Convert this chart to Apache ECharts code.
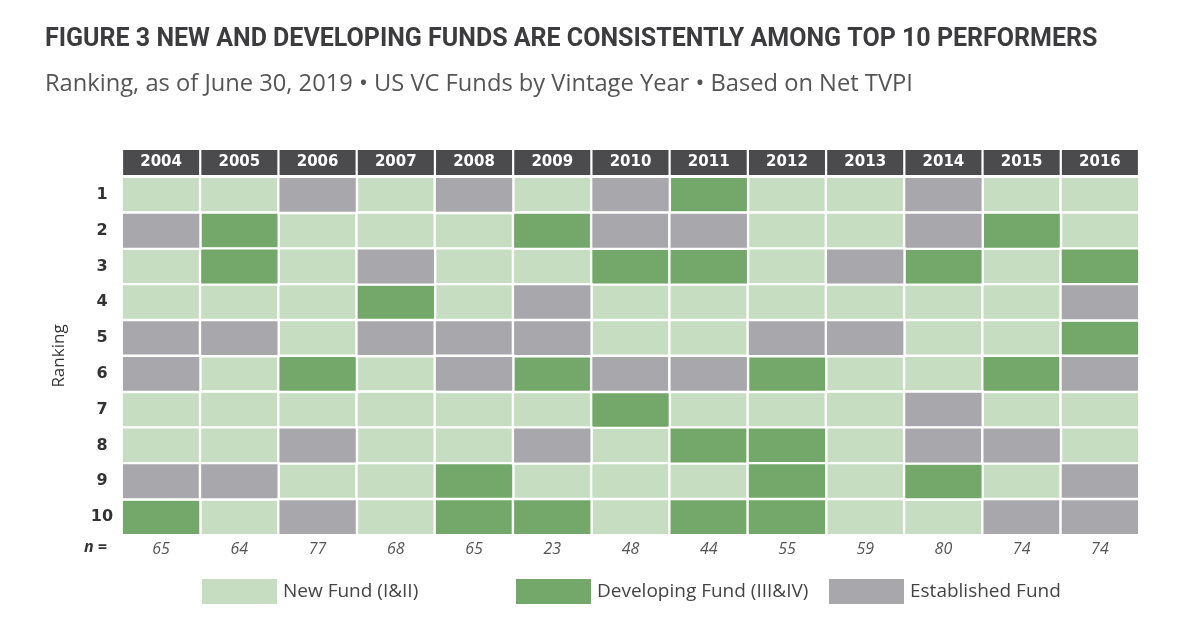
<!DOCTYPE html>
<html>
<head>
<meta charset="utf-8">
<script src="https://cdn.jsdelivr.net/npm/echarts@6/dist/echarts.min.js"></script>
<style>html,body{margin:0;padding:0;background:#fff}#c{width:1200px;height:635px}</style>
</head>
<body>
<div id="c"></div>
<script>
const years = ['2004','2005','2006','2007','2008','2009','2010','2011','2012','2013','2014','2015','2016'];
const ranks = ['1','2','3','4','5','6','7','8','9','10'];
const nValues = ['65','64','77','68','65','23','48','44','55','59','80','74','74'];
// N = New Fund, D = Developing Fund, E = Established Fund; one row per ranking, one entry per vintage year
const rank1  = ['N','N','E','N','E','N','E','D','N','N','E','N','N'];
const rank2  = ['E','D','N','N','N','D','E','E','N','N','E','D','N'];
const rank3  = ['N','D','N','E','N','N','D','D','N','E','D','N','D'];
const rank4  = ['N','N','N','D','N','E','N','N','N','N','N','N','E'];
const rank5  = ['E','E','N','E','E','E','N','N','E','E','N','N','D'];
const rank6  = ['E','N','D','N','E','D','E','E','D','N','N','D','E'];
const rank7  = ['N','N','N','N','N','N','D','N','N','N','E','N','N'];
const rank8  = ['N','N','E','N','N','E','N','D','D','N','E','E','N'];
const rank9  = ['E','E','N','N','D','N','N','N','D','N','D','N','E'];
const rank10 = ['D','N','E','N','D','D','N','D','D','N','N','E','E'];
const rankRows = [rank1, rank2, rank3, rank4, rank5, rank6, rank7, rank8, rank9, rank10];
const typeNames = {N: 'New Fund (I&II)', D: 'Developing Fund (III&IV)', E: 'Established Fund'};
const typeColors = {N: '#c6ddc2', D: '#73a86a', E: '#a8a8ac'};

function cellsOf(code) {
  const out = [];
  rankRows.forEach((row, r) => row.forEach((t, c) => { if (t === code) out.push([c, r, 1]); }));
  return out;
}

const chart = echarts.init(document.getElementById('c'));
const series = ['N','D','E'].map(code => ({
  name: typeNames[code],
  type: 'heatmap',
  xAxisIndex: 0,
  yAxisIndex: 0,
  data: cellsOf(code),
  itemStyle: {color: typeColors[code], borderColor: '#ffffff', borderWidth: 2.4},
  emphasis: {disabled: true}
}));

const legendBase = {
  orient: 'horizontal', top: 577, itemWidth: 77, itemHeight: 27, icon: 'rect', padding: 0,
  selectedMode: false,
  textStyle: {fontFamily: 'Open Sans', fontSize: 19, color: '#444'}
};

chart.setOption({
  backgroundColor: '#ffffff',
  animation: false,
  title: [
    {text: 'FIGURE 3 NEW AND DEVELOPING FUNDS ARE CONSISTENTLY AMONG TOP 10 PERFORMERS', left: 45, top: 27, padding: 0,
     textStyle: {fontFamily: 'Roboto', fontWeight: 'bold', fontSize: 25, color: '#3c3c3e'}},
    {text: 'Ranking, as of June 30, 2019 \u2022 US VC Funds by Vintage Year \u2022 Based on Net TVPI', left: 45, top: 72, padding: 0,
     textStyle: {fontFamily: 'Open Sans', fontWeight: 'normal', fontSize: 23.7, color: '#555'}}
  ],
  legend: [
    Object.assign({}, legendBase, {left: 200, data: [typeNames.N]}),
    Object.assign({}, legendBase, {left: 514, data: [typeNames.D]}),
    Object.assign({}, legendBase, {left: 827, data: [typeNames.E]})
  ],
  grid: {left: 122, right: 61, top: 177, bottom: 100},
  xAxis: [
    {type: 'category', data: years, position: 'top', gridIndex: 0,
     axisLine: {show: false}, axisTick: {show: false}, splitLine: {show: false},
     axisLabel: {interval: 0, margin: 2, color: '#ffffff', fontFamily: 'DejaVu Sans', fontWeight: 'bold', fontSize: 15,
                 backgroundColor: '#4b4b4d', width: 76, height: 25, lineHeight: 25, align: 'center', padding: 0}},
    {type: 'category', data: nValues, position: 'bottom', gridIndex: 0,
     axisLine: {show: false}, axisTick: {show: false}, splitLine: {show: false},
     axisLabel: {interval: 0, margin: 6, color: '#555', fontFamily: 'Open Sans', fontStyle: 'italic', fontSize: 16}}
  ],
  yAxis: {type: 'category', data: ranks, inverse: true,
          name: 'Ranking', nameLocation: 'middle', nameGap: 54, nameRotate: 90,
          nameTextStyle: {fontFamily: 'Open Sans', fontSize: 17, color: '#333'},
          axisLine: {show: false}, axisTick: {show: false}, splitLine: {show: false},
          axisLabel: {margin: 20, align: 'center', color: '#333', fontFamily: 'DejaVu Sans', fontWeight: 'bold', fontSize: 16}},
  graphic: [
    {type: 'text', left: 84, top: 539,
     style: {text: 'n =', fontFamily: 'Open Sans', fontStyle: 'italic', fontWeight: 'bold', fontSize: 16, fill: '#333'}}
  ],
  series: series
});
</script>
</body>
</html>
